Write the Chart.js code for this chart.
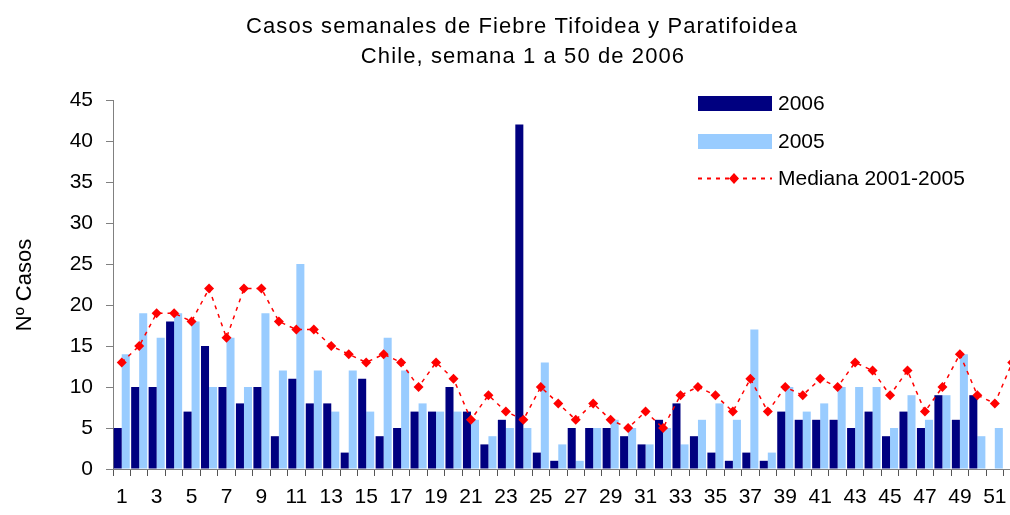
<!DOCTYPE html>
<html>
<head>
<meta charset="utf-8">
<script src="https://cdn.jsdelivr.net/npm/chart.js@4.4.1/dist/chart.umd.min.js"></script>
<style>
  html, body { margin: 0; padding: 0; background: #fff; overflow: hidden; }
  #wrap { width: 1010px; height: 515px; overflow: hidden; position: relative; }
  canvas { display: block; }
</style>
</head>
<body>
<div id="wrap"><canvas id="c" width="1048" height="515"></canvas></div>
<script>
// ---- Data ----
const weeks = Array.from({length: 52}, (_, i) => String(i + 1));
const cases2006 = [5,10,10,18,7,15,10,8,10,4, 11,8,8,2,11,4,5,7,7,10, 7,3,6,42,2,1,5,5,5,4, 3,6,8,4,2,1,2,1,7,6, 6,6,5,7,4,7,5,9,6,9, null,null];
const cases2005 = [14,19,16,19,18,10,16,10,19,12, 25,12,7,12,7,16,12,8,7,7, 6,4,5,5,13,3,1,5,6,5, 3,5,3,6,8,6,17,2,10,7, 8,10,10,10,5,9,6,9,14,4, 5,null];
const median0105 = [13,15,19,19,18,22,16,22,22,18, 17,17,15,14,13,14,13,10,13,11, 6,9,7,6,10,8,6,8,6,5, 7,5,9,10,9,7,11,7,10,9, 11,10,13,12,9,12,7,10,14,9, 8,13];
const titleLines = ["Casos semanales de Fiebre Tifoidea y Paratifoidea", "Chile, semana 1 a 50 de 2006"];
const yTitle = "Nº Casos";
const seriesLabels = ["2006", "2005", "Mediana 2001-2005"];

const FONT = "'Liberation Sans', Arial, sans-serif";

const textPlugin = {
  id: 'textPlugin',
  afterDraw(chart) {
    const ctx = chart.ctx;
    ctx.save();
    ctx.fillStyle = '#000';
    // Title
    ctx.font = "22px " + FONT;
    ctx.textAlign = 'center';
    ctx.textBaseline = 'middle';
    try { ctx.letterSpacing = '1.1px'; } catch (e) {}
    ctx.fillText(titleLines[0], 522, 27);
    ctx.fillText(titleLines[1], 523, 57);
    try { ctx.letterSpacing = '0px'; } catch (e) {}
    // Y axis title
    ctx.save();
    ctx.translate(25, 285);
    ctx.rotate(-Math.PI / 2);
    ctx.font = "22px " + FONT;
    ctx.fillText(yTitle, 0, 0);
    ctx.restore();
    // Legend
    const ds = chart.data.datasets;
    const bx = 698, bw = 74;
    ctx.font = "21px " + FONT;
    ctx.textAlign = 'left';
    ctx.fillStyle = ds[0].backgroundColor;
    ctx.fillRect(bx, 96, bw, 15);
    ctx.fillStyle = ds[1].backgroundColor;
    ctx.fillRect(bx, 134, bw, 15);
    ctx.strokeStyle = ds[2].borderColor;
    ctx.lineWidth = 2;
    ctx.setLineDash([4, 5]);
    ctx.beginPath();
    ctx.moveTo(bx, 178.5);
    ctx.lineTo(bx + bw, 178.5);
    ctx.stroke();
    ctx.setLineDash([]);
    ctx.fillStyle = ds[2].pointBackgroundColor;
    ctx.beginPath();
    ctx.moveTo(734, 173); ctx.lineTo(739, 178.5); ctx.lineTo(734, 184); ctx.lineTo(729, 178.5);
    ctx.closePath(); ctx.fill();
    ctx.fillStyle = '#000';
    ctx.fillText(ds[0].label, 778, 104);
    ctx.fillText(ds[1].label, 778, 142);
    ctx.fillText(ds[2].label, 778, 179);
    ctx.restore();
  }
};

new Chart(document.getElementById('c'), {
  type: 'bar',
  data: {
    labels: weeks,
    datasets: [
      { label: seriesLabels[0], data: cases2006, backgroundColor: '#000080', order: 2,
        categoryPercentage: 0.92, barPercentage: 1.0 },
      { label: seriesLabels[1], data: cases2005, backgroundColor: '#99CCFF', order: 2,
        categoryPercentage: 0.92, barPercentage: 1.0 },
      { type: 'line', label: seriesLabels[2], data: median0105, order: 0,
        borderColor: '#FF0000', borderWidth: 1.5, borderDash: [4, 5], tension: 0,
        pointStyle: 'rectRot', pointRadius: 5, pointBackgroundColor: '#FF0000',
        pointBorderColor: '#FF0000', pointBorderWidth: 0, fill: false }
    ]
  },
  options: {
    responsive: false,
    animation: false,
    devicePixelRatio: 1,
    layout: { padding: { top: 100, right: 27, bottom: 0, left: 0 } },
    plugins: { legend: { display: false }, title: { display: false }, tooltip: { enabled: false } },
    scales: {
      x: {
        offset: true,
        afterFit(scale) { scale.height = 46; },
        grid: { offset: true, drawOnChartArea: false, drawTicks: true, tickLength: 7, color: '#555' },
        border: { color: '#808080', width: 1 },
        ticks: {
          autoSkip: false, maxRotation: 0, minRotation: 0, padding: 9,
          color: '#000', font: { family: FONT, size: 21 },
          callback(v, i) { return i % 2 === 0 ? this.getLabelForValue(v) : ''; }
        }
      },
      y: {
        min: 0, max: 45,
        afterFit(scale) { scale.width = 113; },
        grid: { drawOnChartArea: false, drawTicks: true, tickLength: 7, color: '#808080' },
        border: { color: '#808080', width: 1 },
        ticks: { stepSize: 5, padding: 13, color: '#000', font: { family: FONT, size: 21 } }
      }
    }
  },
  plugins: [textPlugin]
});
</script>
</body>
</html>
